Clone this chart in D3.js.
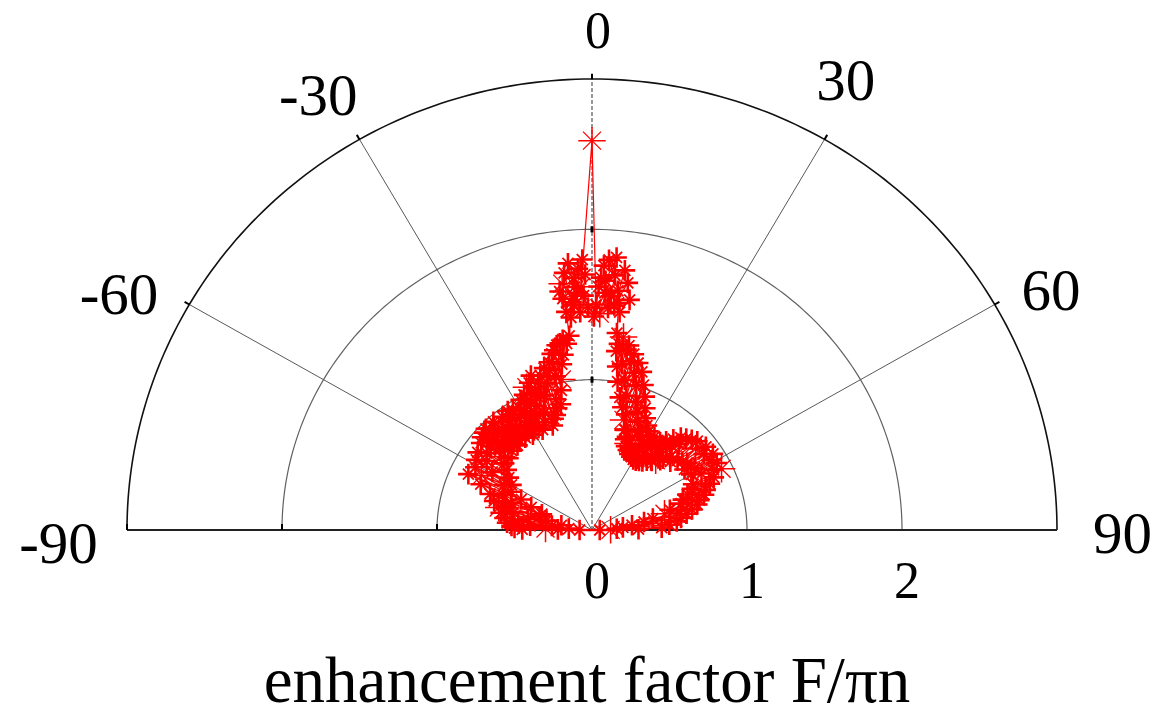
<!DOCTYPE html>
<html>
<head>
<meta charset="utf-8">
<script src="https://cdn.jsdelivr.net/npm/d3@7"></script>
<style>
  body { margin: 0; background: #fff; }
  svg { display: block; }
  text { font-family: "Liberation Serif", "Times New Roman", serif; fill: #000; }
</style>
</head>
<body>
<div id="chart"></div>
<script>
// angle ticks (deg) and radial ticks
var angleTicks = [-90, -60, -30, 0, 30, 60, 90];
var angleLabels = ["-90", "-60", "-30", "0", "30", "60", "90"];
var radialTicks = [0, 1, 2];
var radialLabels = ["0", "1", "2"];

// measured pattern, [angle deg, F/pi n]
var leftLobe = [
    [-90, 0.08], [-89.5, 0.45], [-89, 0.22], [-88.5, 0.5], [-88, 0.3], [-87, 0.52],
    [-86.5, 0.15], [-86, 0.4], [-85, 0.55], [-84, 0.26], [-83, 0.48], [-82, 0.57],
    [-81, 0.2], [-80, 0.42], [-79, 0.6], [-78, 0.3], [-77, 0.52], [-76, 0.62],
    [-75, 0.35], [-74, 0.58], [-73, 0.66], [-72, 0.34], [-71, 0.55], [-70, 0.7],
    [-69, 0.42], [-68, 0.62], [-67, 0.78], [-66, 0.5], [-65, 0.88], [-64, 0.58],
    [-63, 0.8], [-62, 0.64], [-61, 0.86], [-60, 0.6], [-59, 0.75], [-58, 0.88],
    [-57, 0.64], [-56, 0.82], [-55, 0.9], [-54, 0.68], [-53, 0.85], [-52, 0.72],
    [-51, 0.92], [-50, 0.76], [-49.5, 0.86], [-49, 0.94], [-48.5, 0.72], [-48, 0.8],
    [-47.5, 0.9], [-47, 0.95], [-46.5, 0.84], [-46, 0.78], [-45.5, 0.96], [-45, 0.9],
    [-44.5, 0.74], [-44, 0.82], [-43.5, 0.88], [-43, 0.93], [-42.5, 0.84], [-42, 0.77],
    [-41.5, 0.96], [-41, 0.88], [-40.5, 0.74], [-40, 0.8], [-39.5, 0.86], [-39, 0.92],
    [-38.5, 0.82], [-38, 0.76], [-37.5, 0.95], [-37, 0.86], [-36.5, 0.78], [-36, 0.9],
    [-35.5, 0.84], [-35, 0.75], [-34.5, 0.96], [-34, 0.92], [-33.5, 0.78], [-33, 0.8],
    [-32.5, 0.95], [-32, 0.88], [-31.5, 0.82], [-31, 0.74], [-30.5, 0.9], [-30, 0.94],
    [-29.5, 0.76], [-29, 0.82], [-28.5, 0.9], [-28, 0.98], [-27.5, 0.86], [-27, 0.76],
    [-26.5, 0.94], [-26, 1.0], [-25.5, 0.74], [-25, 0.85], [-24.5, 0.95], [-24, 1.04],
    [-23.5, 0.9], [-23, 0.78], [-22.5, 1.06], [-22, 0.98], [-21.5, 0.84], [-21, 1.1],
    [-20.5, 0.95], [-20, 0.74], [-19.5, 1.04], [-19, 0.95], [-18.5, 0.78], [-18, 1.08],
    [-17.5, 0.98], [-17, 0.8], [-16.5, 1.02], [-16, 1.12], [-15.5, 0.84], [-15, 0.9],
    [-14.5, 1.1], [-14, 1.15], [-13.5, 0.86], [-13, 1.05], [-12.5, 1.2], [-12, 0.95],
    [-11.5, 1.22], [-11, 1.02], [-10.5, 1.25], [-10, 1.12], [-9.5, 1.26], [-9, 1.18],
    [-8.5, 1.28], [-7.5, 1.25], [-6.5, 1.3]
];
var centralPeak = [
    [-6.5, 1.46], [-7.5, 1.6], [-5, 1.52], [-6, 1.72], [-4, 1.62], [-6.7, 1.65],
    [-3, 1.45], [-5, 1.78], [-2, 1.56], [-4.5, 1.5], [-1.5, 1.7], [-3, 1.74],
    [-7, 1.55], [-3.5, 1.58], [-5.5, 1.42], [-2, 1.8], [-4, 1.68],
    [-1, 1.48], [-2.5, 1.62], [0, 2.59], [1, 1.5], [2, 1.68], [0.5, 1.42],
    [3, 1.58], [2.5, 1.76], [4, 1.48], [5, 1.7], [3.5, 1.8], [6, 1.6],
    [1.5, 1.62], [4.5, 1.56], [2, 1.44], [5, 1.82], [3, 1.66],
    [7, 1.74], [5.5, 1.5], [8, 1.66], [9, 1.55], [7, 1.46], [6.5, 1.52]
];
var rightLobe = [
    [7, 1.32], [7.5, 1.2], [8, 1.25], [8.5, 1.1], [9, 1.3], [9.5, 1.0],
    [10, 1.12], [10.5, 1.22], [11, 1.25], [11.5, 0.9], [12, 1.02], [12.5, 1.15],
    [13, 1.2], [13.5, 0.84], [14, 0.92], [14.5, 1.08], [15, 1.15], [15.5, 0.76],
    [16, 0.8], [16.5, 1.0], [17, 1.1], [17.5, 0.7], [18, 0.7], [18.5, 0.9],
    [19, 1.02], [19.5, 0.64], [20, 0.66], [20.5, 0.84], [21, 0.95], [21.5, 0.6],
    [22, 0.62], [22.5, 0.78], [23, 0.88], [23.5, 0.58], [24, 0.6], [24.5, 0.72],
    [25, 0.82], [25.5, 0.56], [26, 0.58], [26.5, 0.7], [27, 0.78], [27.5, 0.55],
    [28, 0.56], [28.5, 0.68], [29, 0.75], [29.5, 0.54], [30, 0.57], [30.5, 0.66],
    [31, 0.72], [31.5, 0.54], [32, 0.56], [32.5, 0.66], [33, 0.74], [33.5, 0.55],
    [34, 0.58], [34.5, 0.68], [35, 0.7], [35.5, 0.56], [36, 0.6], [36.5, 0.7],
    [37, 0.73], [37.5, 0.58], [38, 0.62], [38.5, 0.72], [39, 0.76], [39.5, 0.6],
    [40, 0.6], [40.5, 0.74], [41, 0.8], [41.5, 0.62], [42, 0.64], [42.5, 0.76],
    [43, 0.84], [43.5, 0.64], [44, 0.66], [44.5, 0.8], [45, 0.86], [46, 0.7],
    [47, 0.88], [48, 0.68], [49, 0.9], [50, 0.72], [51, 0.86], [52, 0.74],
    [53, 0.92], [54, 0.76], [55, 0.88], [56, 0.72], [57, 0.93], [58, 0.78],
    [59, 0.9], [60, 0.74], [61, 0.92], [62, 0.8], [63, 0.88], [64, 0.93],
    [65, 0.72], [66, 0.86], [67, 0.7], [68, 0.82], [69, 0.66], [70, 0.78],
    [71, 0.62], [72, 0.76], [73, 0.6], [74, 0.72], [75, 0.52], [76, 0.7],
    [77, 0.48], [78, 0.66], [79, 0.4], [80, 0.62], [81, 0.34], [82, 0.58],
    [83, 0.26], [84, 0.55], [85, 0.2], [86, 0.5], [87, 0.16], [88, 0.45],
    [89, 0.3], [89.5, 0.12], [90, 0.05]
];

var W = 1170, H = 715;
var cx = 592, cy = 530;

var svg = d3.select("#chart").append("svg")
    .attr("width", W)
    .attr("height", H);

// the picture is a little squashed vertically
var rx = d3.scaleLinear().domain([0, 3]).range([0, 465]);
var ry = d3.scaleLinear().domain([0, 3]).range([0, 451]);
var ang = d3.scaleLinear().domain([-90, 90]).range([-Math.PI / 2, Math.PI / 2]);

var px = function(a, r) { return cx + rx(r) * Math.sin(ang(a)); };
var py = function(a, r) { return cy - ry(r) * Math.cos(ang(a)); };

var line = d3.line()
    .x(function(d) { return px(d[0], d[1]); })
    .y(function(d) { return py(d[0], d[1]); });

////////// grid //////////

var grid = svg.append("g").attr("class", "grid");

function ring(r) {
    var pts = d3.range(-90, 90.5, 1).map(function(a) { return [a, r]; });
    return line(pts);
}

grid.selectAll(".ring")
    .data([1, 2])
    .enter()
    .append("path")
    .attr("class", "ring")
    .attr("d", ring)
    .attr("fill", "none")
    .attr("stroke", "#606060")
    .attr("stroke-width", 1.2);

grid.selectAll(".spoke")
    .data([-60, -30, 30, 60])
    .enter()
    .append("line")
    .attr("class", "spoke")
    .attr("x1", cx).attr("y1", cy)
    .attr("x2", function(d) { return px(d, 3); })
    .attr("y2", function(d) { return py(d, 3); })
    .attr("stroke", "#5a5a5a")
    .attr("stroke-width", 1);

// zero direction, dashed
grid.append("line")
    .attr("x1", cx).attr("y1", cy)
    .attr("x2", px(0, 3)).attr("y2", py(0, 3))
    .attr("stroke", "#555")
    .attr("stroke-width", 1.2)
    .attr("stroke-dasharray", "4,2");

grid.append("path")
    .attr("d", ring(3))
    .attr("fill", "none")
    .attr("stroke", "#111")
    .attr("stroke-width", 1.6);

grid.append("line")
    .attr("x1", px(-90, 3)).attr("y1", cy)
    .attr("x2", px(90, 3)).attr("y2", cy)
    .attr("stroke", "#222")
    .attr("stroke-width", 2);

// small ticks
grid.selectAll(".atick")
    .data([-60, -30, 0, 30, 60])
    .enter()
    .append("line")
    .attr("x1", function(d) { return px(d, 3); })
    .attr("y1", function(d) { return py(d, 3); })
    .attr("x2", function(d) { return px(d, 3.035); })
    .attr("y2", function(d) { return py(d, 3.035); })
    .attr("stroke", "#000")
    .attr("stroke-width", 2);

grid.selectAll(".btick")
    .data([1, 2, 3])
    .enter()
    .append("line")
    .attr("x1", function(d) { return px(-90, d); })
    .attr("x2", function(d) { return px(-90, d); })
    .attr("y1", cy)
    .attr("y2", cy - 6)
    .attr("stroke", "#000")
    .attr("stroke-width", 2);

grid.selectAll(".vtick")
    .data([1, 2])
    .enter()
    .append("rect")
    .attr("x", cx - 1.5)
    .attr("y", function(d) { return py(0, d) - 3; })
    .attr("width", 3)
    .attr("height", 6)
    .attr("fill", "#000");

////////// labels //////////

var nudge = {"-90": [-22, 33], "-60": [-30, 32], "-30": [-18, 15], "0": [6, 14],
             "30": [-2, 0], "60": [16, 28], "90": [19, 23]};

svg.selectAll(".alabel")
    .data(angleTicks)
    .enter()
    .append("text")
    .attr("class", "alabel")
    .attr("text-anchor", "middle")
    .attr("font-size", function(d) { return d === 0 ? 52 : 59; })
    .attr("x", function(d) { return px(d, 3.3) + nudge[d][0]; })
    .attr("y", function(d) { return py(d, 3.3) + nudge[d][1]; })
    .text(function(d, i) { return angleLabels[i]; });

svg.selectAll(".rlabel")
    .data(radialTicks)
    .enter()
    .append("text")
    .attr("class", "rlabel")
    .attr("text-anchor", "middle")
    .attr("font-size", 52)
    .attr("x", function(d) { return px(90, d) + 5; })
    .attr("y", cy + 68)
    .text(function(d, i) { return radialLabels[i]; });

svg.append("text")
    .attr("text-anchor", "middle")
    .attr("font-size", 65)
    .attr("x", 587)
    .attr("y", 702)
    .text("enhancement factor F/\u03c0n");

////////// data //////////

var trace = leftLobe.concat(centralPeak, rightLobe);

var plot = svg.append("g").attr("class", "plot");

plot.append("path")
    .attr("d", line(trace))
    .attr("fill", "none")
    .attr("stroke", "#ff0000")
    .attr("stroke-width", 1.2);

var isBig = function(d, i) { return d[1] > 2 || i % 13 === 4; };

var marks = plot.selectAll(".mark")
    .data(trace)
    .enter()
    .append("g")
    .attr("class", "mark")
    .attr("transform", function(d) {
        return "translate(" + px(d[0], d[1]) + "," + py(d[0], d[1]) + ")";
    });

marks.append("path")
    .attr("d", function(d, i) {
        var s = isBig(d, i) ? 13 : 9;
        return "M" + (-s) + ",0H" + s + "M0," + (-s) + "V" + s;
    })
    .attr("stroke", "#ff0000")
    .attr("stroke-linecap", "square")
    .attr("stroke-width", function(d, i) { return isBig(d, i) ? 1.5 : 2.6; });

marks.append("path")
    .attr("d", function(d, i) {
        var s = isBig(d, i) ? 9 : 5.5;
        return "M" + (-s) + "," + (-s) + "L" + s + "," + s + "M" + (-s) + "," + s + "L" + s + "," + (-s);
    })
    .attr("stroke", "#ff0000")
    .attr("stroke-width", function(d, i) { return isBig(d, i) ? 1.3 : 1.8; });
</script>
</body>
</html>
